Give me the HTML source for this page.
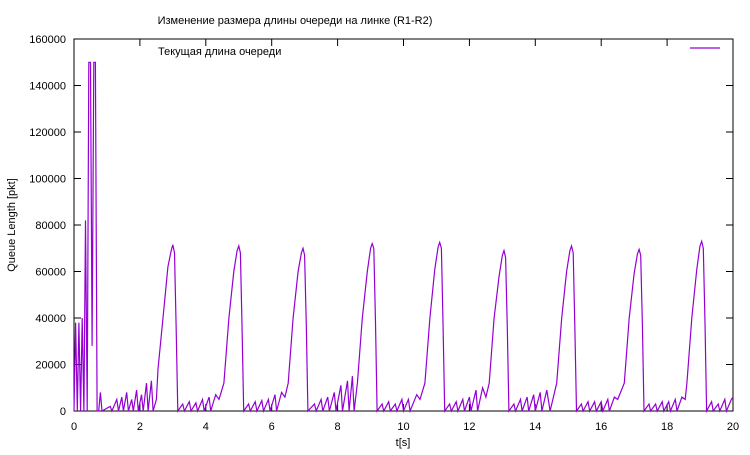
<!DOCTYPE html>
<html><head><meta charset="utf-8"><style>
body{margin:0;background:#fff}
svg{font-family:"Liberation Sans","DejaVu Sans",sans-serif;font-size:11px}
</style></head><body>
<svg width="750" height="450">
<text x="295" y="24" text-anchor="middle">Изменение размера длины очереди на линке (R1-R2)</text>
<rect x="74" y="39" width="659" height="372" fill="none" stroke="#000"/>
<g id="ticks"></g>
<text transform="translate(15,225) rotate(-90)" text-anchor="middle">Queue Length [pkt]</text>
<text x="403" y="446" text-anchor="middle">t[s]</text>
<text x="158" y="55">Текущая длина очереди</text>
<line x1="690" y1="48" x2="720" y2="48" stroke="#9400d3" stroke-width="1.2"/>
<polyline id="series" fill="none" stroke="#9400d3" stroke-width="1.2"/>
</svg>
<script>
const xTicks=[0,2,4,6,8,10,12,14,16,18,20];
const yTicks=[0,20000,40000,60000,80000,100000,120000,140000,160000];
const times=[0,0.05,0.1,0.15,0.2,0.25,0.3,0.35,0.4,0.45,0.5,0.55,0.6,0.65,0.7,0.75,0.8,0.85,
1.1,1.15,1.3,1.35,1.45,1.5,1.6,1.65,1.75,1.8,1.9,1.95,2.05,2.1,2.2,2.25,2.35,2.4,2.5,
2.55,2.7,2.85,2.95,3.0,3.05,3.1,3.15,
3.3,3.35,3.5,3.55,3.7,3.75,3.9,3.95,4.1,4.15,4.3,4.4,
4.55,4.7,4.85,4.95,5.0,5.05,5.1,5.15,
5.3,5.35,5.5,5.55,5.7,5.75,5.9,5.95,6.1,6.15,6.3,6.4,
6.5,6.65,6.8,6.9,6.95,7.0,7.05,7.1,
7.3,7.35,7.5,7.55,7.7,7.75,7.9,7.95,8.1,8.15,8.3,8.35,8.45,8.5,
8.6,8.75,8.9,9.0,9.05,9.1,9.15,9.2,
9.35,9.4,9.55,9.6,9.75,9.8,9.95,10.0,10.15,10.2,10.4,10.5,
10.65,10.8,10.95,11.05,11.1,11.15,11.2,11.25,
11.4,11.45,11.6,11.65,11.8,11.85,12.0,12.05,12.2,12.25,12.4,12.5,
12.6,12.75,12.9,13.0,13.05,13.1,13.15,13.2,
13.35,13.4,13.55,13.6,13.75,13.8,13.95,14.0,14.15,14.2,14.35,14.45,14.55,
14.65,14.8,14.95,15.05,15.1,15.15,15.2,15.25,
15.4,15.45,15.6,15.65,15.8,15.85,16.0,16.05,16.2,16.25,16.4,16.5,
16.7,16.85,17.0,17.1,17.15,17.2,17.25,17.3,
17.45,17.5,17.65,17.7,17.85,17.9,18.05,18.1,18.25,18.3,18.45,18.55,
18.6,18.75,18.9,19.0,19.05,19.1,19.15,19.2,
19.35,19.4,19.55,19.6,19.75,19.8,19.95,20.0];
const queue=[0,38000,0,38000,0,40000,0,82000,0,150000,150000,28000,150000,150000,0,0,8000,0,
2000,0,5000,0,6000,0,8000,0,5000,0,9000,0,7000,0,12000,0,13000,0,5000,
18000,40000,62000,69000,71500,68000,37000,0,
3000,0,4000,0,3500,0,5000,0,6000,0,7000,5000,
12000,40000,60000,69000,71000,68000,37000,0,
3000,0,4000,0,4500,0,5000,0,7000,0,8000,6000,
12000,40000,60000,68000,70000,67000,37000,0,
3000,0,5000,0,6000,0,8000,0,11000,0,13000,0,15000,0,
12000,40000,60000,70000,72000,70000,38000,0,
3000,0,4000,0,3000,0,5000,0,5000,0,7000,5000,
12000,40000,61000,70500,72500,70000,38000,0,
3000,0,4000,0,5000,0,6000,0,9000,0,10000,6000,
12000,40000,58000,67000,69000,66000,36000,0,
3000,0,5000,0,6000,0,7000,0,8000,0,9000,0,6000,
12000,40000,60000,69000,71000,68000,37000,0,
3000,0,4000,0,4000,0,4000,0,5000,0,6000,5000,
12000,40000,59000,67500,69500,67000,37000,0,
3000,0,3000,0,4000,0,4000,0,5000,0,6000,5000,
12000,40000,61000,71000,73000,70000,38000,0,
4000,0,3000,0,5000,0,5000,6000];
const X0=74,X1=733,Y0=411,Y1=39;
const xs=t=>X0+(t-0)/(20-0)*(X1-X0);
const ys=v=>Y0-(v-0)/(160000-0)*(Y0-Y1);
const NS='http://www.w3.org/2000/svg';
const g=document.getElementById('ticks');
function mk(tag,attrs){const e=document.createElementNS(NS,tag);for(const k in attrs)e.setAttribute(k,attrs[k]);return e;}
xTicks.forEach(t=>{
 const x=xs(t);
 g.appendChild(mk('line',{x1:x,y1:Y0,x2:x,y2:Y0-7,stroke:'#000'}));
 g.appendChild(mk('line',{x1:x,y1:Y1,x2:x,y2:Y1+7,stroke:'#000'}));
 const tx=mk('text',{x:x,y:Y0+19,'text-anchor':'middle'});tx.textContent=t;
 
 
 g.appendChild(tx);
});
yTicks.forEach(v=>{
 const y=ys(v);
 g.appendChild(mk('line',{x1:X0,y1:y,x2:X0+7,y2:y,stroke:'#000'}));
 g.appendChild(mk('line',{x1:X1,y1:y,x2:X1-7,y2:y,stroke:'#000'}));
 const tx=mk('text',{x:X0-8,y:y+4,'text-anchor':'end'});tx.textContent=v;
 
 
 g.appendChild(tx);
});
const n=Math.min(times.length,queue.length);
document.getElementById('series').setAttribute('points',times.slice(0,n).map((t,i)=>xs(t).toFixed(1)+','+ys(queue[i]).toFixed(1)).join(' '));
</script>
</body></html>
